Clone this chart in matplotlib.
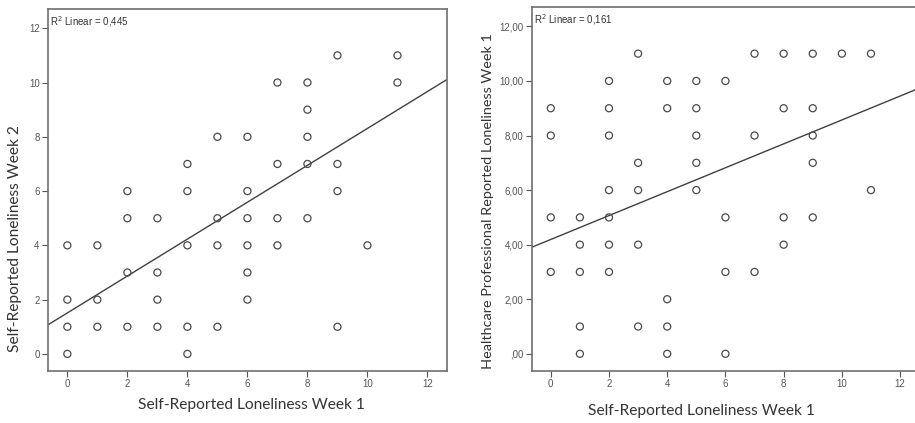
import numpy as np
import matplotlib
matplotlib.use('Agg')
import matplotlib.pyplot as plt

# 左图：自评孤独感 第1周 vs 第2周
left_x = [0, 0, 0, 0,
          1, 1, 1,
          2, 2, 2, 2,
          3, 3, 3, 3,
          4, 4, 4, 4, 4,
          5, 5, 5, 5,
          6, 6, 6, 6, 6, 6,
          7, 7, 7, 7,
          8, 8, 8, 8, 8,
          9, 9, 9, 9,
          10,
          11, 11]
left_y = [4, 2, 1, 0,
          4, 2, 1,
          6, 5, 3, 1,
          5, 3, 2, 1,
          7, 6, 4, 1, 0,
          8, 5, 4, 1,
          8, 6, 5, 4, 3, 2,
          10, 7, 5, 4,
          10, 9, 8, 7, 5,
          11, 7, 6, 1,
          4,
          11, 10]
left_fit = (1.51, 0.680)   # intercept, slope
left_r2 = '0,445'

# 右图：自评 第1周 vs 医护人员评估 第1周
right_x = [0, 0, 0, 0,
           1, 1, 1, 1, 1,
           2, 2, 2, 2, 2, 2, 2,
           3, 3, 3, 3, 3,
           4, 4, 4, 4, 4,
           5, 5, 5, 5, 5,
           6, 6, 6, 6,
           7, 7, 7,
           8, 8, 8, 8,
           9, 9, 9, 9, 9,
           10,
           11, 11]
right_y = [9, 8, 5, 3,
           5, 4, 3, 1, 0,
           10, 9, 8, 6, 5, 4, 3,
           11, 7, 6, 4, 1,
           10, 9, 2, 1, 0,
           10, 9, 8, 7, 6,
           10, 5, 3, 0,
           11, 8, 3,
           11, 9, 5, 4,
           11, 9, 8, 7, 5,
           11,
           11, 6]
right_fit = (4.19, 0.438)
right_r2 = '0,161'

x_ticks = [0, 2, 4, 6, 8, 10, 12]
y_ticks = [0, 2, 4, 6, 8, 10, 12]
left_ytick_labels = ['0', '2', '4', '6', '8', '10', '12']
right_ytick_labels = [',00', '2,00', '4,00', '6,00', '8,00', '10,00', '12,00']

xlabel = 'Self-Reported Loneliness Week 1'
left_ylabel = 'Self-Reported Loneliness Week 2'
right_ylabel = 'Healthcare Professional Reported Loneliness Week 1'

W, H = 915, 423
fig = plt.figure(figsize=(W / 100, H / 100), dpi=100)
fig.patch.set_facecolor('white')

def px_axes(left, top, right, bottom):
    return fig.add_axes([left / W, 1 - bottom / H, (right - left) / W, (bottom - top) / H])

XLIM = (-0.645, 12.65)
YLIM = (-0.63, 12.71)
LABEL_FONT = 'Lato'
TICK_FONT = 'Liberation Sans'

def draw_panel(ax, xs, ys, fit, r2, ylabels, ylab, ysize, xpos, ypos):
    ax.scatter(xs, ys, s=26, facecolors='none', edgecolors='#4a4a4a', linewidths=0.9, zorder=3)
    lx = np.array(XLIM)
    ax.plot(lx, fit[0] + fit[1] * lx, color='#404040', linewidth=1.0, zorder=2)
    ax.set_xlim(*XLIM)
    ax.set_ylim(*YLIM)
    ax.set_xticks(x_ticks)
    ax.set_xticklabels([str(t) for t in x_ticks])
    ax.set_yticks(y_ticks)
    ax.set_yticklabels(ylabels)
    ax.tick_params(axis='both', direction='out', length=4, width=0.8, color='#555555',
                   labelsize=7, labelcolor='#555555', pad=2)
    for lab in ax.get_xticklabels() + ax.get_yticklabels():
        lab.set_fontfamily(TICK_FONT)
    for sp in ax.spines.values():
        sp.set_color('#707070')
        sp.set_linewidth(1.2)
    ax.text(0.004, 0.985, r'R$^2$ Linear = ' + r2, transform=ax.transAxes,
            ha='left', va='top', fontsize=7, color='#333333', family=TICK_FONT)
    ax.set_xlabel(xlabel, fontsize=11.2, family=LABEL_FONT, color='#333333', va='center')
    ax.set_ylabel(ylab, fontsize=ysize, family=LABEL_FONT, color='#333333',
                  va='center', ha='center')
    ax.xaxis.set_label_coords(*xpos)
    ax.yaxis.set_label_coords(*ypos)

ax1 = px_axes(48, 9, 447, 371)
draw_panel(ax1, left_x, left_y, left_fit, left_r2, left_ytick_labels, left_ylabel, 11.2,
           (0.511, -0.094), (-0.083, 0.367))

ax2 = px_axes(532, 7, 919, 371)
draw_panel(ax2, right_x, right_y, right_fit, right_r2, right_ytick_labels, right_ylabel, 10.35,
           (0.437, -0.110), (-0.114, 0.467))

fig.savefig('out.png', dpi=100, facecolor='white')
